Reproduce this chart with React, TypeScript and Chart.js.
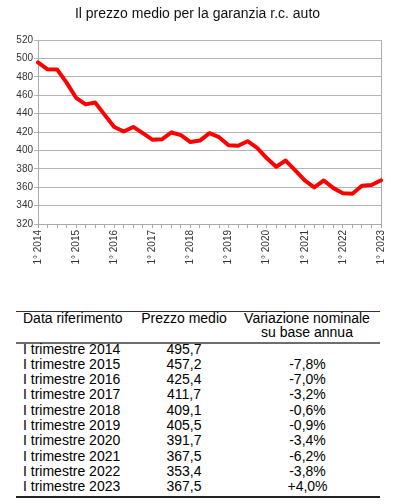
import React, { useEffect, useRef } from "react";
import { Chart, registerables } from "chart.js";

Chart.register(...registerables);

const FONT = "'Liberation Sans', Arial, sans-serif";

const chartTitle = "Il prezzo medio per la garanzia r.c. auto";

const quarterLabels = [
  "1° 2014", "2° 2014", "3° 2014", "4° 2014",
  "1° 2015", "2° 2015", "3° 2015", "4° 2015",
  "1° 2016", "2° 2016", "3° 2016", "4° 2016",
  "1° 2017", "2° 2017", "3° 2017", "4° 2017",
  "1° 2018", "2° 2018", "3° 2018", "4° 2018",
  "1° 2019", "2° 2019", "3° 2019", "4° 2019",
  "1° 2020", "2° 2020", "3° 2020", "4° 2020",
  "1° 2021", "2° 2021", "3° 2021", "4° 2021",
  "1° 2022", "2° 2022", "3° 2022", "4° 2022",
  "1° 2023",
];

const prezzoMedio = [
  495.7, 488.2, 488.0, 473.7,
  457.2, 450.0, 452.0, 438.6,
  425.4, 420.5, 425.5, 418.7,
  411.7, 412.0, 419.5, 416.6,
  409.1, 410.7, 418.7, 414.4,
  405.5, 405.0, 410.0, 402.8,
  391.7, 382.2, 389.0, 378.2,
  367.5, 359.7, 367.3, 359.0,
  353.4, 352.9, 361.6, 362.3,
  367.5,
];

const yMin = 320;
const yMax = 520;
const yStep = 20;

const headerDate = "Data riferimento";
const headerPrice = "Prezzo medio";
const headerChange = ["Variazione nominale", "su base annua"];

const tableDates = [
  "I trimestre 2014", "I trimestre 2015", "I trimestre 2016", "I trimestre 2017",
  "I trimestre 2018", "I trimestre 2019", "I trimestre 2020", "I trimestre 2021",
  "I trimestre 2022", "I trimestre 2023",
];
const tablePrices = [
  "495,7", "457,2", "425,4", "411,7", "409,1", "405,5", "391,7", "367,5", "353,4", "367,5",
];
const tableChanges = [
  "", "-7,8%", "-7,0%", "-3,2%", "-0,6%", "-0,9%", "-3,4%", "-6,2%", "-3,8%", "+4,0%",
];

const rightBorderPlugin = {
  id: "rightBorder",
  beforeDatasetsDraw(chart: any) {
    const { ctx, chartArea } = chart;
    ctx.save();
    ctx.strokeStyle = "#aaaaaa";
    ctx.lineWidth = 1;
    const x = Math.round(chartArea.right) + 0.5;
    ctx.beginPath();
    ctx.moveTo(x, chartArea.top);
    ctx.lineTo(x, chartArea.bottom);
    ctx.stroke();
    ctx.restore();
  },
};

function LineChart() {
  const ref = useRef<HTMLCanvasElement | null>(null);
  useEffect(() => {
    if (!ref.current) return;
    const chart = new Chart(ref.current, {
      type: "line",
      data: {
        labels: quarterLabels,
        datasets: [
          {
            data: prezzoMedio,
            borderColor: "#ff0000",
            borderWidth: 4,
            pointRadius: 0,
            pointHoverRadius: 0,
            tension: 0,
            fill: false,
            borderJoinStyle: "round",
            borderCapStyle: "round",
          },
        ],
      },
      options: {
        responsive: false,
        animation: false,
        layout: { padding: { top: 40, right: 9, left: 0, bottom: 0 } },
        plugins: {
          legend: { display: false },
          title: { display: false },
          tooltip: { enabled: false },
        },
        scales: {
          x: {
            grid: { drawOnChartArea: false, drawTicks: true, tickLength: 4, color: "#aaaaaa" },
            border: { display: true, color: "#aaaaaa" },
            ticks: {
              autoSkip: false,
              maxRotation: 90,
              minRotation: 90,
              padding: 2,
              color: "#333333",
              font: { size: 10, family: FONT },
              callback: (_v: any, i: number) => (i % 4 === 0 ? quarterLabels[i] : ""),
            },
            afterFit: (s: any) => {
              s.height = 66;
            },
          },
          y: {
            min: yMin,
            max: yMax,
            ticks: {
              stepSize: yStep,
              padding: 1,
              color: "#333333",
              font: { size: 10, family: FONT },
            },
            grid: { color: "#b4b4b4", tickLength: 4 },
            border: { display: true, color: "#aaaaaa" },
            afterFit: (s: any) => {
              s.width = 38;
            },
          },
        },
      },
      plugins: [rightBorderPlugin],
    } as any);
    return () => chart.destroy();
  }, []);
  return (
    <canvas
      ref={ref}
      width={395}
      height={290}
      style={{ position: "absolute", left: 0, top: 0, display: "block" }}
    />
  );
}

export default function App() {
  const rowTop0 = 341.5;
  const rowPitch = 15.3;
  return (
    <div
      style={{
        position: "absolute",
        left: 0,
        top: 0,
        width: 395,
        height: 504,
        background: "#ffffff",
        fontFamily: FONT,
        color: "#000",
        overflow: "hidden",
      }}
    >
      <LineChart />
      <div
        style={{
          position: "absolute",
          left: 0,
          top: 4.5,
          width: 395,
          textAlign: "center",
          fontSize: 14,
          lineHeight: "16px",
          color: "#111",
        }}
      >
        {chartTitle}
      </div>

      {/* table */}
      <div style={{ position: "absolute", left: 16, top: 311, width: 364, height: 1, background: "#333" }} />
      <div style={{ position: "absolute", left: 23, top: 310.5, fontSize: 14, lineHeight: "14.6px", whiteSpace: "nowrap" }}>
        {headerDate}
      </div>
      <div style={{ position: "absolute", left: 124, top: 310.5, width: 120, textAlign: "center", fontSize: 14, lineHeight: "14.6px", whiteSpace: "nowrap" }}>
        {headerPrice}
      </div>
      <div style={{ position: "absolute", left: 227, top: 310.5, width: 160, textAlign: "center", fontSize: 14, lineHeight: "14.6px", whiteSpace: "nowrap" }}>
        {headerChange.map((t, i) => (
          <div key={i}>{t}</div>
        ))}
      </div>
      <div style={{ position: "absolute", left: 16, top: 341.7, width: 364, height: 2, background: "#6e6e6e" }} />

      {tableDates.map((d, i) => (
        <React.Fragment key={d}>
          <div style={{ position: "absolute", left: 23, top: rowTop0 + i * rowPitch, fontSize: 14, lineHeight: rowPitch + "px", whiteSpace: "nowrap" }}>
            {d}
          </div>
          <div style={{ position: "absolute", left: 124, top: rowTop0 + i * rowPitch, width: 120, textAlign: "center", fontSize: 14, lineHeight: rowPitch + "px", whiteSpace: "nowrap" }}>
            {tablePrices[i]}
          </div>
          <div style={{ position: "absolute", left: 247.5, top: rowTop0 + i * rowPitch, width: 120, textAlign: "center", fontSize: 14, lineHeight: rowPitch + "px", whiteSpace: "nowrap" }}>
            {tableChanges[i]}
          </div>
        </React.Fragment>
      ))}
      <div style={{ position: "absolute", left: 16, top: 495.7, width: 364, height: 2, background: "#222" }} />
    </div>
  );
}
